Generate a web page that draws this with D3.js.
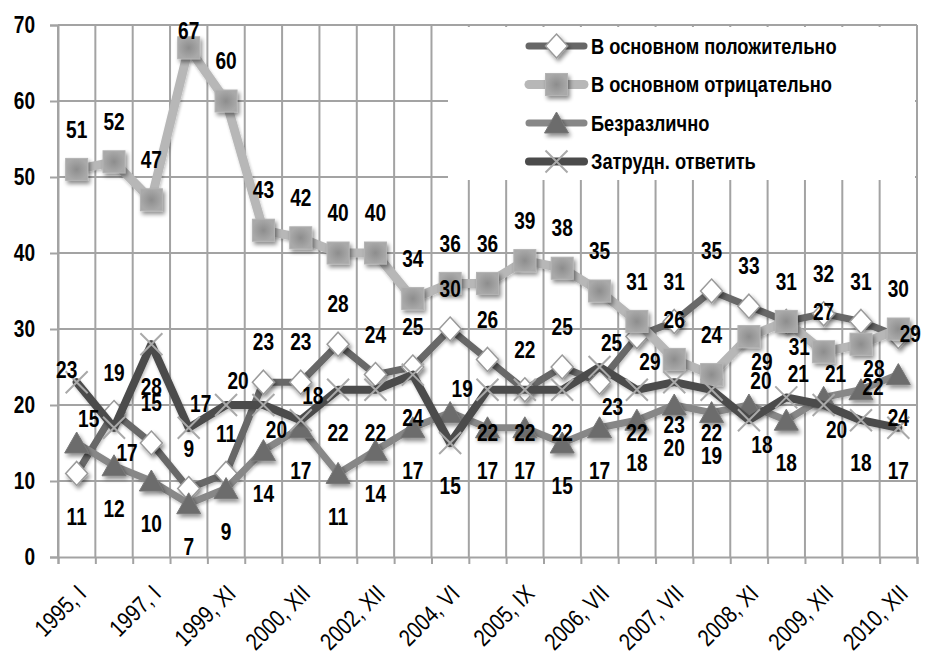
<!DOCTYPE html>
<html>
<head>
<meta charset="utf-8">
<script src="https://cdn.jsdelivr.net/npm/d3@7"></script>
<style>
  html, body { margin: 0; padding: 0; background: #fff; }
  svg { display: block; }
  .narrow { font-family: "Liberation Sans", Arial, sans-serif; }
</style>
</head>
<body>
<svg id="chart" width="925" height="662"></svg>
<script>
// ---------- DATA ----------
const tickLabels = ["1995, I", "1997, I", "1999, XI", "2000, XII", "2002, XII", "2004, VI",
                    "2005, IX", "2006, VII", "2007, VII", "2008, XI", "2009, XII", "2010, XII"];
const seriesNames = ["В основном положительно", "В основном отрицательно", "Безразлично", "Затрудн. ответить"];
const positive    = [11, 19, 15, 9, 11, 23, 23, 28, 24, 25, 30, 26, 22, 25, 23, 29, 31, 35, 33, 31, 32, 31, 29];
const negative    = [51, 52, 47, 67, 60, 43, 42, 40, 40, 34, 36, 36, 39, 38, 35, 31, 26, 24, 29, 31, 27, 28, 30];
const indifferent = [15, 12, 10, 7, 9, 14, 17, 11, 14, 17, 19, 17, 17, 15, 17, 18, 20, 19, 20, 18, 21, 22, 24];
const difficult   = [23, 17, 28, 17, 20, 20, 18, 22, 22, 24, 15, 22, 22, 22, 25, 22, 23, 22, 18, 21, 20, 18, 17];
const yTicks = [0, 10, 20, 30, 40, 50, 60, 70];

// label placement codes (t = top, b = bottom, tr/br = right-top/right-bottom, r = right, tl = left-top)
const positiveLabelPos    = ['b','t','t','t','t','t','t','t','t','t','t','t','t','t','br','br','t','t','t','t','t','t','r'];
const negativeLabelPos    = ['t','t','t','t','t','t','t','t','t','t','t','t','t','t','t','t','t','t','br','br','t','br','t'];
const indifferentLabelPos = ['tr','b','b','b','b','b','b','b','b','b','tr','b','b','b','b','b','b','b','tr','b','tr','r','b'];
const difficultLabelPos   = ['tl','br','b','tr','tr','br','tr','b','b','b','b','b','b','b','tr','b','b','b','br','tr','br','b','b'];

// ---------- LAYOUT ----------
const svg = d3.select("#chart");
const plot = { left: 58, right: 917, top: 25, bottom: 557 };
const n = negative.length;
const NARROW = 0.83;

function narrow(sel) {
  sel.each(function () {
    const L = this.getComputedTextLength();
    d3.select(this).attr("textLength", L * NARROW).attr("lengthAdjust", "spacingAndGlyphs");
  });
}

const x = d3.scaleBand().domain(d3.range(n)).range([plot.left, plot.right]).padding(0);
const xb = d3.scaleLinear().domain([0, n]).range([plot.left, plot.right]);
const y = d3.scaleLinear().domain([0, 70]).range([plot.bottom, plot.top]);
const cx = i => x(i) + x.bandwidth() / 2;

const defs = svg.append("defs");
const sh = defs.append("filter").attr("id", "shadow").attr("x", "-50%").attr("y", "-50%").attr("width", "200%").attr("height", "200%");
sh.append("feGaussianBlur").attr("in", "SourceAlpha").attr("stdDeviation", 2.2).attr("result", "b");
sh.append("feOffset").attr("in", "b").attr("dx", 1.5).attr("dy", 2.5).attr("result", "o");
sh.append("feComponentTransfer").attr("in", "o").attr("result", "oa")
  .append("feFuncA").attr("type", "linear").attr("slope", 0.45);
const m = sh.append("feMerge");
m.append("feMergeNode").attr("in", "oa");
m.append("feMergeNode").attr("in", "SourceGraphic");

const lsh = defs.append("filter").attr("id", "lshadow").attr("x", "-10%").attr("y", "-10%").attr("width", "120%").attr("height", "120%");
lsh.append("feGaussianBlur").attr("in", "SourceAlpha").attr("stdDeviation", 1.5).attr("result", "b");
lsh.append("feOffset").attr("in", "b").attr("dx", 1).attr("dy", 2).attr("result", "o");
lsh.append("feComponentTransfer").attr("in", "o").attr("result", "oa")
  .append("feFuncA").attr("type", "linear").attr("slope", 0.25);
const m2 = lsh.append("feMerge");
m2.append("feMergeNode").attr("in", "oa");
m2.append("feMergeNode").attr("in", "SourceGraphic");

const sqGrad = defs.append("radialGradient").attr("id", "sqgrad");
sqGrad.append("stop").attr("offset", "0%").attr("stop-color", "#8d8d8d");
sqGrad.append("stop").attr("offset", "100%").attr("stop-color", "#a9a9a9");

const gridColor = "#a3a3a3";

// y axis
const yAxis = d3.axisLeft(y).tickValues(yTicks).tickSize(8).tickPadding(15).tickFormat(d3.format("d"));
const gy = svg.append("g").attr("transform", `translate(${plot.left},0)`).call(yAxis);
gy.select(".domain").attr("stroke", gridColor).attr("stroke-width", 2);
gy.selectAll(".tick line").attr("stroke", gridColor).attr("stroke-width", 2);
gy.selectAll(".tick text").attr("class", "narrow").attr("font-size", 23).attr("font-weight", "bold").attr("fill", "#000").call(narrow);

const grid = svg.append("g");
grid.selectAll("line.h").data(yTicks.filter(d => d > 0)).join("line")
  .attr("x1", plot.left).attr("x2", plot.right).attr("y1", d => y(d)).attr("y2", d => y(d))
  .attr("stroke", gridColor).attr("stroke-width", 2);

grid.selectAll("line.v").data(d3.range(n + 1)).join("line")
  .attr("x1", d => xb(d)).attr("x2", d => xb(d)).attr("y1", plot.top).attr("y2", plot.bottom)
  .attr("stroke", gridColor).attr("stroke-width", 2);

// x axis (ticks at category boundaries)
const gxb = svg.append("g").attr("transform", `translate(0,${plot.bottom})`)
  .call(d3.axisBottom(xb).tickValues(d3.range(n + 1)).tickSize(7).tickFormat(""));
gxb.select(".domain").attr("stroke", gridColor).attr("stroke-width", 2);
gxb.selectAll(".tick line").attr("stroke", gridColor).attr("stroke-width", 2);

// x labels (every second category)
const labelIdx = d3.range(0, n, 2);
const gx = svg.append("g").attr("transform", `translate(0,${plot.bottom})`)
  .call(d3.axisBottom(x).tickValues(labelIdx).tickSize(0).tickFormat((d, k) => tickLabels[k]));
gx.select(".domain").remove();
gx.selectAll(".tick text")
  .attr("class", "narrow").attr("font-size", 24).attr("fill", "#000")
  .attr("text-anchor", "end").attr("x", 0).attr("y", 0).attr("dy", 0)
  .attr("transform", "translate(11,38) rotate(-45)")
  .call(narrow);

// legend background (covers grid)
const legend = { x: 448, y: 27, w: 467, h: 153 };
svg.append("rect").attr("x", legend.x).attr("y", legend.y).attr("width", legend.w).attr("height", legend.h).attr("fill", "#fff");

// ---------- SERIES ----------
const series = [
  { name: seriesNames[0], values: positive,    pos: positiveLabelPos,    stroke: "#676767", width: 7, marker: "diamond" },
  { name: seriesNames[1], values: negative,    pos: negativeLabelPos,    stroke: "#b7b7b7", width: 9, marker: "square" },
  { name: seriesNames[2], values: indifferent, pos: indifferentLabelPos, stroke: "#878787", width: 7, marker: "triangle" },
  { name: seriesNames[3], values: difficult,   pos: difficultLabelPos,   stroke: "#4b4b4b", width: 8, marker: "cross" }
];

function drawMarker(g, type, px, py) {
  if (type === "diamond") {
    g.append("path").attr("transform", `translate(${px},${py})`)
      .attr("d", "M0,-12L11,0L0,12L-11,0Z")
      .attr("fill", "#fff").attr("stroke", "#9a9a9a").attr("stroke-width", 1.5).attr("filter", "url(#shadow)");
  } else if (type === "square") {
    g.append("rect").attr("x", px - 11).attr("y", py - 11).attr("width", 22).attr("height", 22)
      .attr("fill", "url(#sqgrad)").attr("stroke", "#b3b3b3").attr("stroke-width", 1).attr("filter", "url(#shadow)");
  } else if (type === "triangle") {
    g.append("path").attr("transform", `translate(${px},${py})`)
      .attr("d", "M0,-11L12,10L-12,10Z")
      .attr("fill", "#6c6c6c").attr("stroke", "#777").attr("stroke-width", 1).attr("filter", "url(#shadow)");
  } else if (type === "cross") {
    g.append("path").attr("transform", `translate(${px},${py})`)
      .attr("d", "M-11,-11L11,11M-11,11L11,-11")
      .attr("fill", "none").attr("stroke", "#a9a9a9").attr("stroke-width", 2);
  }
}

const line = d3.line().x((d, i) => cx(i)).y(d => y(d));
const seriesG = svg.append("g");
series.forEach(s => {
  const g = seriesG.append("g");
  g.append("path").datum(s.values).attr("d", line)
    .attr("fill", "none").attr("stroke", s.stroke).attr("stroke-width", s.width)
    .attr("stroke-linejoin", "round").attr("stroke-linecap", "round").attr("filter", "url(#lshadow)");
  s.values.forEach((v, i) => drawMarker(g, s.marker, cx(i), y(v)));
});

// data labels
const offsets = { t: [0, -40], b: [0, 43], tr: [12, -24], br: [13, 25], r: [12, -3], tl: [-10, -12] };
const labelsG = svg.append("g");
series.forEach(s => {
  labelsG.selectAll(null).data(s.values).join("text")
    .attr("class", "narrow")
    .attr("x", (d, i) => cx(i) + offsets[s.pos[i]][0])
    .attr("y", (d, i) => Math.max(31, y(d) + offsets[s.pos[i]][1]))
    .attr("dy", "0.36em")
    .attr("text-anchor", "middle")
    .attr("font-size", 23).attr("font-weight", "bold").attr("fill", "#000")
    .text(d => d)
    .call(narrow);
});

// legend items
const lg = svg.append("g");
series.forEach((s, k) => {
  const ly = 46 + k * 38.5;
  lg.append("line").attr("x1", 529).attr("x2", 584).attr("y1", ly).attr("y2", ly)
    .attr("stroke", s.stroke).attr("stroke-width", s.width).attr("stroke-linecap", "round");
  drawMarker(lg, s.marker, 556.5, ly);
  lg.append("text").attr("class", "narrow").attr("x", 591).attr("y", ly).attr("dy", "0.36em")
    .attr("font-size", 22).attr("font-weight", "bold").attr("fill", "#000").text(s.name)
    .call(narrow);
});
</script>
</body>
</html>
